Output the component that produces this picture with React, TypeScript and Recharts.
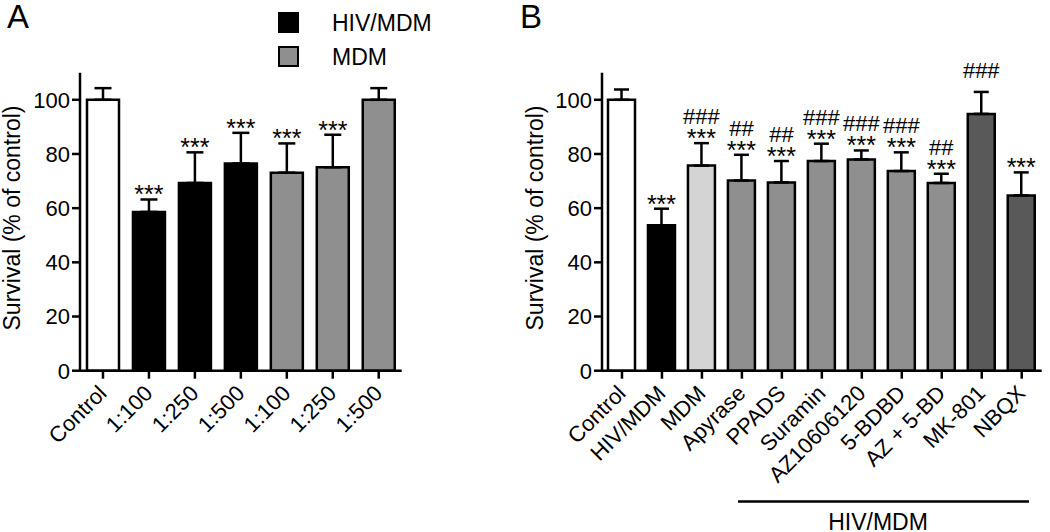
import React from 'react';
import { BarChart, Bar, XAxis, YAxis, ErrorBar, Cell, LabelList, Legend } from 'recharts';

const FONT = "'Liberation Sans', Arial, Helvetica, sans-serif";

// ---------- Panel A data ----------
const categoriesA = ['Control', '1:100', '1:250', '1:500', '1:100', '1:250', '1:500'];
const meansA = [100, 58.6, 69.3, 76.5, 73.1, 75.1, 100];
const semA = [4.3, 4.6, 11.3, 11.3, 10.8, 12.0, 4.3];
const groupsA = ['control', 'hiv', 'hiv', 'hiv', 'mdm', 'mdm', 'mdm'];
const starsA = ['', '***', '***', '***', '***', '***', ''];

// ---------- Panel B data ----------
const categoriesB = ['Control', 'HIV/MDM', 'MDM', 'Apyrase', 'PPADS', 'Suramin', 'AZ10606120', '5-BDBD', 'AZ + 5-BD', 'MK-801', 'NBQX'];
const meansB = [100, 53.7, 75.7, 70.2, 69.5, 77.4, 78.0, 73.7, 69.3, 94.8, 64.7];
const semB = [3.8, 6.1, 8.3, 9.5, 7.9, 6.4, 3.3, 6.9, 3.4, 8.1, 8.5];
const groupsB = ['control', 'hiv', 'mdmLight', 'treat', 'treat', 'treat', 'treat', 'treat', 'treat', 'dark', 'dark'];
const starsB = ['', '***', '***', '***', '***', '***', '***', '***', '***', '', '***'];
const hashesB = ['', '', '###', '##', '##', '###', '###', '###', '##', '###', ''];

const yTicks = [0, 20, 40, 60, 80, 100];
const legendLabels = ['HIV/MDM', 'MDM'];
const legendGroups = ['hiv', 'mdm'];

// styles (kept apart from data)
const groupColors: Record<string, string> = {
  control: '#ffffff',
  hiv: '#000000',
  mdm: '#8f8f8f',
  mdmLight: '#d4d4d4',
  treat: '#8f8f8f',
  dark: '#595959',
};

const dataA = categoriesA.map((c, i) => ({ name: c, mean: meansA[i], err: [0, semA[i]], group: groupsA[i] }));
const dataB = categoriesB.map((c, i) => ({ name: c, mean: meansB[i], err: [0, semB[i]], group: groupsB[i] }));

const XTick = (props: any) => {
  const { x, y, payload } = props;
  return (
    <g transform={`translate(${x + 5},${y + 14})`}>
      <text transform="rotate(-45)" textAnchor="end" fontSize={22} fontFamily={FONT} fill="#000">
        {payload.value}
      </text>
    </g>
  );
};

const makeMarks = (sems: number[], stars: string[], hashes: string[] | null) => (props: any) => {
  const { x, y, width, height, value, index } = props;
  if (!value) return null;
  const pxPerUnit = height / value;
  const top = y - sems[index] * pxPerUnit;
  const cx = x + width / 2;
  const s = stars[index];
  const h = hashes ? hashes[index] : '';
  return (
    <g>
      {s ? (
        <text x={cx} y={top + 4} textAnchor="middle" fontSize={25} fontFamily={FONT} fill="#000">
          {s}
        </text>
      ) : null}
      {h ? (
        <text x={cx} y={s ? top - 19 : top - 14} textAnchor="middle" fontSize={22} fontFamily={FONT} fill="#000">
          {h}
        </text>
      ) : null}
    </g>
  );
};

const LegendContent = () => (
  <svg width={220} height={70}>
    {legendLabels.map((l, i) => (
      <g key={l}>
        <rect x={9} y={9 + i * 34} width={19} height={19} fill={groupColors[legendGroups[i]]} stroke="#000" strokeWidth={2} />
        <text x={62} y={27 + i * 34} fontSize={23} fontFamily={FONT} fill="#000">
          {l}
        </text>
      </g>
    ))}
  </svg>
);

const axisCommon = {
  stroke: '#000',
};

export default function App() {
  return (
    <div style={{ position: 'absolute', left: 0, top: 0, width: 1050, height: 532, background: '#fff', overflow: 'hidden' }}>
      <div style={{ position: 'absolute', left: 0, top: 0 }}>
        <BarChart width={420} height={532} data={dataA} margin={{ top: 72.7, right: 18.3, bottom: 61.3, left: 0 }}>
          <XAxis
            dataKey="name"
            interval={0}
            tick={<XTick />}
            tickSize={8}
            height={100}
            axisLine={{ ...axisCommon, strokeWidth: 2.5 }}
            tickLine={{ ...axisCommon, strokeWidth: 2.5 }}
          />
          <YAxis
            domain={[0, 110]}
            ticks={yTicks}
            width={80}
            tickSize={8}
            axisLine={{ ...axisCommon, strokeWidth: 2.5 }}
            tickLine={{ ...axisCommon, strokeWidth: 2.5 }}
            tick={{ fontSize: 22, fontFamily: FONT, fill: '#000' }}
          />
          <Legend
            layout="horizontal"
            verticalAlign="middle"
            align="center"
            content={<LegendContent />}
            wrapperStyle={{ position: 'absolute', left: 270, top: 4, width: 220, height: 70 }}
          />
          <Bar dataKey="mean" barSize={32} stroke="#000" strokeWidth={2.5} isAnimationActive={false}>
            {dataA.map((d, i) => (
              <Cell key={i} fill={groupColors[d.group]} />
            ))}
            <ErrorBar dataKey="err" width={8.5} stroke="#000" strokeWidth={2.5} isAnimationActive={false} />
            <LabelList dataKey="mean" content={makeMarks(semA, starsA, null)} />
          </Bar>
        </BarChart>
      </div>
      <div style={{ position: 'absolute', left: 520, top: 0 }}>
        <BarChart width={530} height={532} data={dataB} margin={{ top: 72.7, right: 8.3, bottom: 61.3, left: 0 }}>
          <XAxis
            dataKey="name"
            interval={0}
            tick={<XTick />}
            tickSize={8}
            height={100}
            axisLine={{ ...axisCommon, strokeWidth: 2.5 }}
            tickLine={{ ...axisCommon, strokeWidth: 2.5 }}
          />
          <YAxis
            domain={[0, 110]}
            ticks={yTicks}
            width={82}
            tickSize={8}
            axisLine={{ ...axisCommon, strokeWidth: 2.5 }}
            tickLine={{ ...axisCommon, strokeWidth: 2.5 }}
            tick={{ fontSize: 22, fontFamily: FONT, fill: '#000' }}
          />
          <Bar dataKey="mean" barSize={27} stroke="#000" strokeWidth={2.5} isAnimationActive={false}>
            {dataB.map((d, i) => (
              <Cell key={i} fill={groupColors[d.group]} />
            ))}
            <ErrorBar dataKey="err" width={7.5} stroke="#000" strokeWidth={2.5} isAnimationActive={false} />
            <LabelList dataKey="mean" content={makeMarks(semB, starsB, hashesB)} />
          </Bar>
        </BarChart>
      </div>
      <svg width={1050} height={532} style={{ position: 'absolute', left: 0, top: 0, pointerEvents: 'none' }}>
        <text x={7} y={28} fontSize={33} fontFamily={FONT} fill="#000">A</text>
        <text x={520} y={28} fontSize={33} fontFamily={FONT} fill="#000">B</text>
        <text transform="translate(20,218) rotate(-90)" textAnchor="middle" fontSize={23} fontFamily={FONT} fill="#000">
          Survival (% of control)
        </text>
        <text transform="translate(543,218) rotate(-90)" textAnchor="middle" fontSize={23} fontFamily={FONT} fill="#000">
          Survival (% of control)
        </text>
        <line x1={738} y1={501.5} x2={1029} y2={501.5} stroke="#000" strokeWidth={2.5} />
        <text x={878} y={530} textAnchor="middle" fontSize={23} fontFamily={FONT} fill="#000">HIV/MDM</text>
      </svg>
    </div>
  );
}
